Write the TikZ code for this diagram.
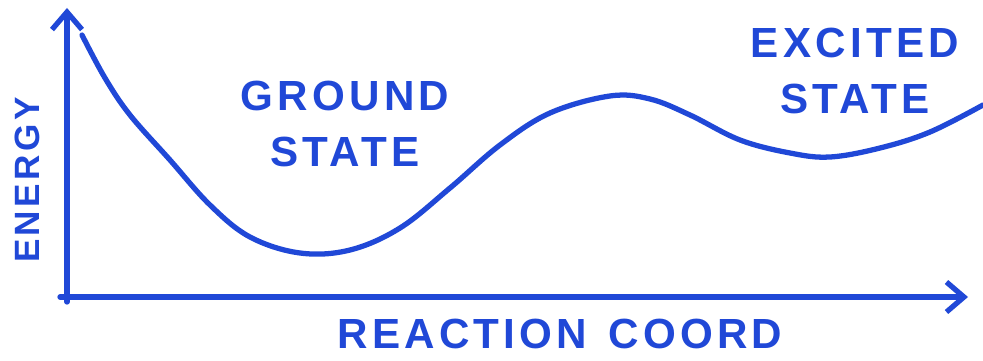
\documentclass[tikz,border=0pt]{standalone}
\usepackage{fontspec}
\setmainfont{Liberation Sans}
\usetikzlibrary{arrows.meta}
\definecolor{ink}{RGB}{32,72,215}

\begin{document}
\begin{tikzpicture}[x=0.02cm, y=-0.02cm,
  pen/.style={draw=ink, line width=3pt, line cap=round, line join=round},
  axis/.style={pen, -{Straight Barb[length=3.5mm, width=6mm, line width=3pt]}},
  word/.style={text=ink, inner sep=0pt, font=\bfseries\fontsize{24}{26}\selectfont\addfontfeatures{LetterSpace=10}},
  lbl/.style={word, align=center}]
\useasboundingbox (0,0) rectangle (983,361);
% axes
\coordinate (o) at (67,297);
\coordinate (ytop) at (67,8);
\coordinate (xend) at (968,297);
\draw[axis] (67,302) -- (ytop);
\draw[axis] (60,297) -- (xend);
\node[word, rotate=90, font=\bfseries\fontsize{20}{22}\selectfont\addfontfeatures{LetterSpace=10}] (energy) at (27,180) {ENERGY};
\node[word] (coord) at (560,334) {REACTION\hspace{12pt}COORD};
% energy curve
\draw[pen] plot[smooth, tension=0.6] coordinates {(82,35) (105,78) (130,115) (170,160)
  (210,205) (250,237) (300,253) (350,250) (400,228) (450,188) (500,145) (550,113)
  (610,96) (650,99) (690,115) (740,140) (790,153) (830,157) (880,148) (930,132) (983,105)};
% states
\node[lbl] (ground) at (345,124) {GROUND\\[6pt]STATE};
\node[lbl] (excited) at (855,71) {EXCITED\\[6pt]STATE};
\end{tikzpicture}
\end{document}
